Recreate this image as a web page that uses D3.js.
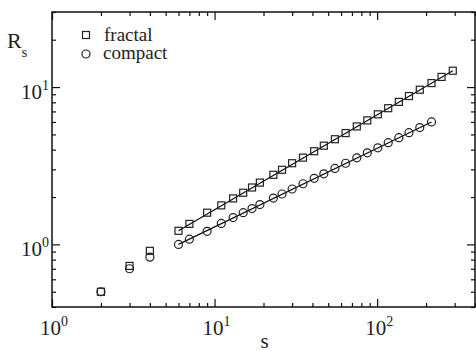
<!DOCTYPE html>
<html>
<head>
<meta charset="utf-8">
<script src="https://cdn.jsdelivr.net/npm/d3@7"></script>
<style>
  body { margin: 0; background: #fff; }
  svg { display: block; font-family: "Liberation Serif", "DejaVu Serif", serif; }
  .axis path { display: none; }
  .axis line { stroke: #111; stroke-width: 1.2; }
</style>
</head>
<body>
<div id="chart"></div>
<script>
// data
const sizes = [2, 3, 4, 6, 7, 9, 11, 13, 15, 17, 19, 23, 26, 30, 35, 41, 47, 55, 64, 75, 87, 101, 117, 136, 157, 183, 216, 249, 292];
const fractal = [0.50, 0.73, 0.91, 1.22, 1.35, 1.59, 1.77, 1.96, 2.13, 2.30, 2.47, 2.77, 2.98, 3.28, 3.56, 3.91, 4.24, 4.66, 5.10, 5.62, 6.14, 6.71, 7.34, 8.05, 8.77, 9.62, 10.6, 11.6, 12.7];
const compact = [0.50, 0.70, 0.83, 1.00, 1.08, 1.21, 1.36, 1.48, 1.59, 1.69, 1.79, 1.97, 2.09, 2.25, 2.43, 2.63, 2.81, 3.04, 3.28, 3.55, 3.82, 4.11, 4.43, 4.77, 5.13, 5.53, 6.00];
const fractalFit = [[6, 1.22], [292, 12.7]];
const compactFit = [[6, 1.0], [216, 6.0]];

const xMajor = [1, 10, 100];
const xMinor = [2, 3, 4, 5, 6, 7, 8, 9, 20, 30, 40, 50, 60, 70, 80, 90, 200, 300, 400];
const yMajor = [1, 10];
const yMinor = [0.4, 0.5, 0.6, 0.7, 0.8, 0.9, 2, 3, 4, 5, 6, 7, 8, 9, 20, 30];
const xLabels = ['0', '1', '2'];
const yLabels = ['0', '1'];

const w = 476, h = 351;
const m = { left: 52, right: 1, top: 12, bottom: 44 };

const svg = d3.select('#chart').append('svg')
    .attr('width', w)
    .attr('height', h);

const x = d3.scaleLog().domain([1, 400]).range([m.left, w - m.right]);
const y = d3.scaleLog().domain([0.4, 30]).range([h - m.bottom, m.top]);

// ticks on all four sides, pointing inward
function ticks(axisFn, scale, vals, len, transform) {
    svg.append('g')
        .attr('class', 'axis')
        .attr('transform', transform)
        .call(axisFn(scale).tickValues(vals).tickSize(-len).tickFormat(''));
}
ticks(d3.axisBottom, x, xMajor, 8, `translate(0,${h - m.bottom})`);
ticks(d3.axisBottom, x, xMinor, 4, `translate(0,${h - m.bottom})`);
ticks(d3.axisTop, x, xMajor, 8, `translate(0,${m.top})`);
ticks(d3.axisTop, x, xMinor, 4, `translate(0,${m.top})`);
ticks(d3.axisLeft, y, yMajor, 8, `translate(${m.left},0)`);
ticks(d3.axisLeft, y, yMinor, 4, `translate(${m.left},0)`);
ticks(d3.axisRight, y, yMajor, 8, `translate(${w - m.right},0)`);
ticks(d3.axisRight, y, yMinor, 4, `translate(${w - m.right},0)`);

svg.append('rect')
    .attr('x', m.left)
    .attr('y', m.top)
    .attr('width', w - m.right - m.left)
    .attr('height', h - m.bottom - m.top)
    .attr('fill', 'none')
    .attr('stroke', '#111')
    .attr('stroke-width', 1.5);

// tick labels as 10^n
xMajor.forEach((v, i) => {
    const t = svg.append('text')
        .attr('x', x(v) + 2)
        .attr('y', h - m.bottom + 28)
        .attr('text-anchor', 'middle')
        .attr('font-size', 21)
        .attr('fill', '#222');
    t.append('tspan').text('10');
    t.append('tspan').attr('dy', -9).attr('font-size', 14).text(xLabels[i]);
});
yMajor.forEach((v, i) => {
    const t = svg.append('text')
        .attr('x', m.left - 3)
        .attr('y', y(v) + 12)
        .attr('text-anchor', 'end')
        .attr('font-size', 21)
        .attr('fill', '#222');
    t.append('tspan').text('10');
    t.append('tspan').attr('dy', -9).attr('font-size', 14).text(yLabels[i]);
});

// axis titles
svg.append('text')
    .attr('x', (m.left + w - m.right) / 2 + 1)
    .attr('y', h - 3)
    .attr('text-anchor', 'middle')
    .attr('font-size', 21)
    .attr('fill', '#222')
    .text('s');
const rs = svg.append('text')
    .attr('x', 7)
    .attr('y', 48)
    .attr('font-size', 22)
    .attr('fill', '#222');
rs.append('tspan').text('R');
rs.append('tspan').attr('dy', 9).attr('font-size', 14).text('s');

// fit lines
const line = d3.line().x(d => x(d[0])).y(d => y(d[1]));
[fractalFit, compactFit].forEach(f => {
    svg.append('path')
        .attr('d', line(f))
        .attr('fill', 'none')
        .attr('stroke', '#111')
        .attr('stroke-width', 1.3);
});

// markers
const sq = 7, r = 4;
svg.append('g').selectAll('rect')
    .data(fractal)
    .enter()
    .append('rect')
    .attr('x', (d, i) => x(sizes[i]) - sq / 2)
    .attr('y', d => y(d) - sq / 2)
    .attr('width', sq)
    .attr('height', sq)
    .attr('fill', 'none')
    .attr('stroke', '#222')
    .attr('stroke-width', 1.2);

svg.append('g').selectAll('circle')
    .data(compact)
    .enter()
    .append('circle')
    .attr('cx', (d, i) => x(sizes[i]))
    .attr('cy', d => y(d))
    .attr('r', r)
    .attr('fill', 'none')
    .attr('stroke', '#222')
    .attr('stroke-width', 1.2);

// legend
const legend = svg.append('g');
legend.append('rect')
    .attr('x', 86 - sq / 2).attr('y', 35 - sq / 2)
    .attr('width', sq).attr('height', sq)
    .attr('fill', 'none').attr('stroke', '#222').attr('stroke-width', 1.2);
legend.append('circle')
    .attr('cx', 86).attr('cy', 54).attr('r', r)
    .attr('fill', 'none').attr('stroke', '#222').attr('stroke-width', 1.2);
legend.append('text')
    .attr('x', 104).attr('y', 41)
    .attr('font-size', 19).attr('fill', '#222')
    .text('fractal');
legend.append('text')
    .attr('x', 103).attr('y', 59)
    .attr('font-size', 19).attr('fill', '#222')
    .text('compact');
</script>
</body>
</html>
